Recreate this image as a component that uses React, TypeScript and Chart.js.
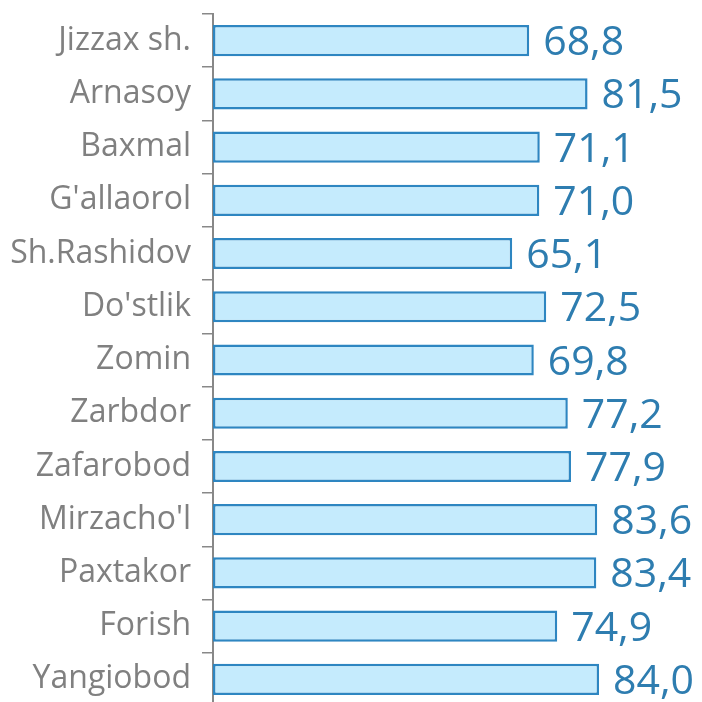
import React, { useEffect, useRef } from "react";
import { Chart, registerables } from "chart.js";

Chart.register(...registerables);

const categories = [
  "Jizzax sh.",
  "Arnasoy",
  "Baxmal",
  "G'allaorol",
  "Sh.Rashidov",
  "Do'stlik",
  "Zomin",
  "Zarbdor",
  "Zafarobod",
  "Mirzacho'l",
  "Paxtakor",
  "Forish",
  "Yangiobod",
];

const values = [68.8, 81.5, 71.1, 71.0, 65.1, 72.5, 69.8, 77.2, 77.9, 83.6, 83.4, 74.9, 84.0];

const valueLabelPlugin = {
  id: "valueLabels",
  afterDatasetsDraw(chart: any) {
    const ctx = chart.ctx;
    const meta = chart.getDatasetMeta(0);
    ctx.save();
    ctx.font = "41px 'Open Sans'";
    ctx.fillStyle = "#2E7DB0";
    ctx.textAlign = "left";
    ctx.textBaseline = "alphabetic";
    meta.data.forEach((el: any, i: number) => {
      const txt = values[i].toFixed(1).replace(".", ",");
      ctx.fillText(txt, el.x + 14, el.y + 14.5);
    });
    ctx.restore();
  },
};

export default function App() {
  const ref = useRef<HTMLCanvasElement | null>(null);
  useEffect(() => {
    document.body.style.margin = "0";
    document.body.style.overflow = "hidden";
    document.documentElement.style.overflow = "hidden";
    if (!ref.current) return;
    const chart = new Chart(ref.current, {
      type: "bar",
      data: {
        labels: categories,
        datasets: [
          {
            data: values,
            backgroundColor: "#C5EBFD",
            borderColor: "#2E86C1",
            borderWidth: 2.5,
            borderSkipped: false,
            categoryPercentage: 1,
            barPercentage: 0.585,
          },
        ],
      },
      options: {
        indexAxis: "y",
        animation: false,
        responsive: false,
        maintainAspectRatio: false,
        layout: { padding: { top: 14, right: 0, bottom: 2, left: 0 } },
        plugins: {
          legend: { display: false },
          tooltip: { enabled: false },
        },
        scales: {
          x: {
            display: false,
            min: 0,
            max: 106.4,
          },
          y: {
            afterFit(scale: any) {
              scale.width = 213;
              scale.paddingTop = 0;
              scale.paddingBottom = 0;
            },
            grid: {
              display: true,
              drawOnChartArea: false,
              drawTicks: true,
              tickLength: 11,
              color: "#888888",
              lineWidth: 1.5,
              offset: true,
            },
            border: { display: true, color: "#888888", width: 2 },
            ticks: {
              color: "#808080",
              padding: 11,
              font: { family: "'Open Sans'", size: 32 },
            },
          },
        },
      },
      plugins: [valueLabelPlugin],
    });
    return () => chart.destroy();
  }, []);
  return (
    <div style={{ width: 702, height: 708 }}>
      <canvas ref={ref} width={702} height={708} style={{ display: "block", width: 702, height: 708 }} />
    </div>
  );
}
